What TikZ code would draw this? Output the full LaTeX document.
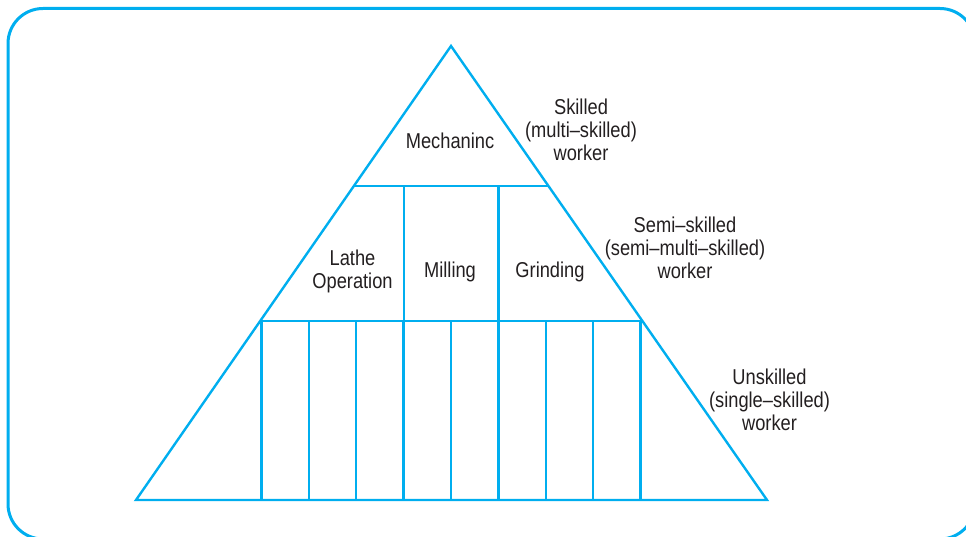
\documentclass[tikz,border=0pt]{standalone}
\usepackage{fontspec}
\setmainfont{Liberation Sans}[FakeStretch=0.85]
\definecolor{pyrcyan}{HTML}{00AEEF}
\definecolor{labelgray}{HTML}{231F20}
\tikzset{
  frameline/.style={draw=pyrcyan, line width=3pt},
  pyrline/.style={draw=pyrcyan, line width=2.4pt, line join=miter},
  lbl/.style={text=labelgray, align=center, inner sep=0pt,
    font=\fontsize{21.5}{23}\selectfont},
}
\begin{document}
\begin{tikzpicture}[x=1pt, y=-1pt]
  \useasboundingbox (0,0) rectangle (966,537);
  % rounded frame, running past the right and bottom edges
  \begin{scope}
    \clip (0,0) rectangle (966,537);
    \draw[frameline, rounded corners=35pt] (8,8.5) rectangle (975,539);
  \end{scope}

  % pyramid outline
  \coordinate (apex) at (451,46);
  \coordinate (bl) at (136,500);
  \coordinate (br) at (767,500);
  \draw[pyrline] (apex) -- (br) -- (bl) -- cycle;

  % tier dividers
  \coordinate (t1l) at (354.5,186);
  \coordinate (t1r) at (547.5,186);
  \coordinate (t2l) at (261.5,321);
  \coordinate (t2r) at (640.5,321);
  \draw[pyrline] (t1l) -- (t1r);
  \draw[pyrline] (t2l) -- (t2r);

  % middle tier columns
  \foreach \x in {404,498.5}
    \draw[pyrline] (\x,186) -- (\x,321);

  % bottom tier columns
  \foreach \i in {0,...,8}
    \draw[pyrline] ({261.5+47.375*\i},321) -- ({261.5+47.375*\i},500);

  % labels inside the pyramid
  \node[lbl] (mech) at (450,141) {Mechaninc};
  \node[lbl] (lathe) at (352.5,271.5) {Lathe\\Operation};
  \node[lbl] (mill) at (450,272) {Milling};
  \node[lbl] (grind) at (550,272) {Grinding};

  % worker levels
  \node[lbl] (skilled) at (581,130) {Skilled\\(multi–skilled)\\worker};
  \node[lbl] (semi) at (685,247.5) {Semi–skilled\\(semi–multi–skilled)\\worker};
  \node[lbl] (unsk) at (769.5,400) {Unskilled\\(single–skilled)\\worker};
\end{tikzpicture}
\end{document}
